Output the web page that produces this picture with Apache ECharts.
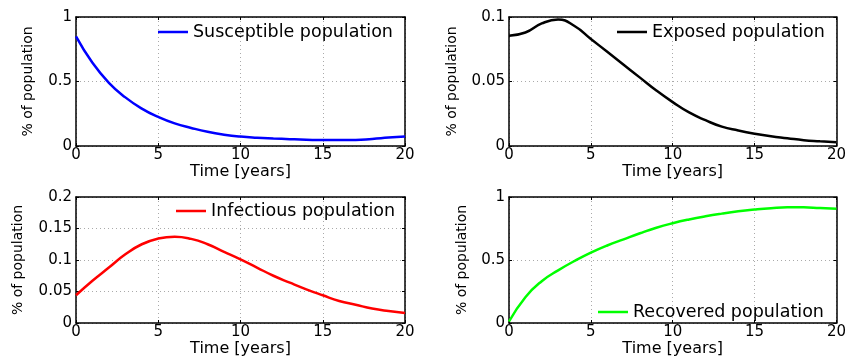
<!DOCTYPE html>
<html>
<head>
<meta charset="utf-8">
<script src="https://cdn.jsdelivr.net/npm/echarts@6/dist/echarts.min.js"></script>
<style>
html,body{margin:0;padding:0;background:#fff;}
#chart{width:849px;height:358px;}
</style>
</head>
<body>
<div id="chart"></div>
<script>
const years = [0,1,2,3,4,5,6,7,8,9,10,11,12,13,14,15,16,17,18,19,20];
const xTicks = ['0','5','10','15','20'];
const susceptible = [0.85,0.645,0.49,0.377,0.29,0.225,0.175,0.14,0.11,0.088,0.073,0.064,0.058,0.053,0.049,0.047,0.046,0.047,0.055,0.065,0.074];
const exposed = [0.0855,0.088,0.095,0.098,0.093,0.083,0.073,0.063,0.053,0.043,0.034,0.026,0.020,0.015,0.012,0.0095,0.0075,0.006,0.0045,0.0037,0.003];
const infectious = [0.044,0.067,0.088,0.109,0.125,0.134,0.137,0.1335,0.125,0.113,0.101,0.088,0.075,0.064,0.0535,0.044,0.035,0.029,0.023,0.019,0.016];
const recovered = [0.012,0.205,0.332,0.418,0.492,0.558,0.615,0.664,0.712,0.756,0.792,0.822,0.847,0.868,0.886,0.900,0.911,0.918,0.918,0.912,0.907];
const names = ['Susceptible population','Exposed population','Infectious population','Recovered population'];
const colors = ['#0000ff','#000000','#ff0000','#00ff00'];
const yMax = [1,0.1,0.2,1];
const yInterval = [0.5,0.05,0.05,0.5];
const seriesData = [susceptible, exposed, infectious, recovered];

const grids = [
  {left:76, top:17, width:329, height:129},
  {left:509, top:17, width:329, height:129},
  {left:76, top:197, width:329, height:128},
  {left:509, top:197, width:328, height:128}
];
const yNameGap = [41,50,51,40];
const legendPos = [
  {left:158, top:23},
  {left:617, top:23},
  {left:176, top:202},
  {left:598, top:303}
];

const FONT = 'DejaVu Sans';
const axisLine = {show:true, onZero:false, lineStyle:{color:'#000', width:1.5}};
const tick = {show:true, inside:true, length:3, lineStyle:{color:'#000', width:1}};
const split = {show:true, lineStyle:{color:'#aaa', type:[1,3], width:1}};

const xAxis = [], yAxis = [], series = [], legend = [];
grids.forEach((g, i) => {
  xAxis.push({
    type:'value', gridIndex:i, min:0, max:20, interval:5, position:'bottom',
    name:'Time [years]', nameLocation:'middle', nameGap:18,
    nameTextStyle:{fontFamily:FONT, fontSize:16, color:'#000'},
    axisLine, axisTick:tick, splitLine:split,
    axisLabel:{fontFamily:FONT, fontSize:15, color:'#000', margin:2,
      formatter:(v)=> xTicks[Math.round(v/5)] }
  });
  xAxis.push({
    type:'value', gridIndex:i, min:0, max:20, interval:5, position:'top',
    axisLine, axisTick:tick, splitLine:{show:false}, axisLabel:{show:false}
  });
  yAxis.push({
    type:'value', gridIndex:i, min:0, max:yMax[i], interval:yInterval[i], position:'left',
    name:'% of population', nameLocation:'middle', nameGap:yNameGap[i],
    nameTextStyle:{fontFamily:FONT, fontSize:14, color:'#000'},
    axisLine, axisTick:tick, splitLine:split,
    axisLabel:{fontFamily:FONT, fontSize:15, color:'#000', margin:4}
  });
  yAxis.push({
    type:'value', gridIndex:i, min:0, max:yMax[i], interval:yInterval[i], position:'right',
    axisLine, axisTick:tick, splitLine:{show:false}, axisLabel:{show:false}
  });
  series.push({
    name:names[i], type:'line', xAxisIndex:2*i, yAxisIndex:2*i,
    data: years.map((t, k) => [t, seriesData[i][k]]),
    smooth:0.5, symbol:'none', animation:false,
    lineStyle:{color:colors[i], width:2.5}, itemStyle:{color:colors[i]}
  });
  legend.push({
    data:[{name:names[i], icon:'rect'}], left:legendPos[i].left, top:legendPos[i].top, padding:0,
    itemWidth:30, itemHeight:2.5, selectedMode:false,
    itemStyle:{color:colors[i], borderWidth:0},
    textStyle:{fontFamily:FONT, fontSize:17.5, color:'#000'}
  });
});

const chart = echarts.init(document.getElementById('chart'));
chart.setOption({
  backgroundColor:'#fff',
  animation:false,
  grid: grids,
  xAxis, yAxis, series, legend
});
</script>
</body>
</html>
